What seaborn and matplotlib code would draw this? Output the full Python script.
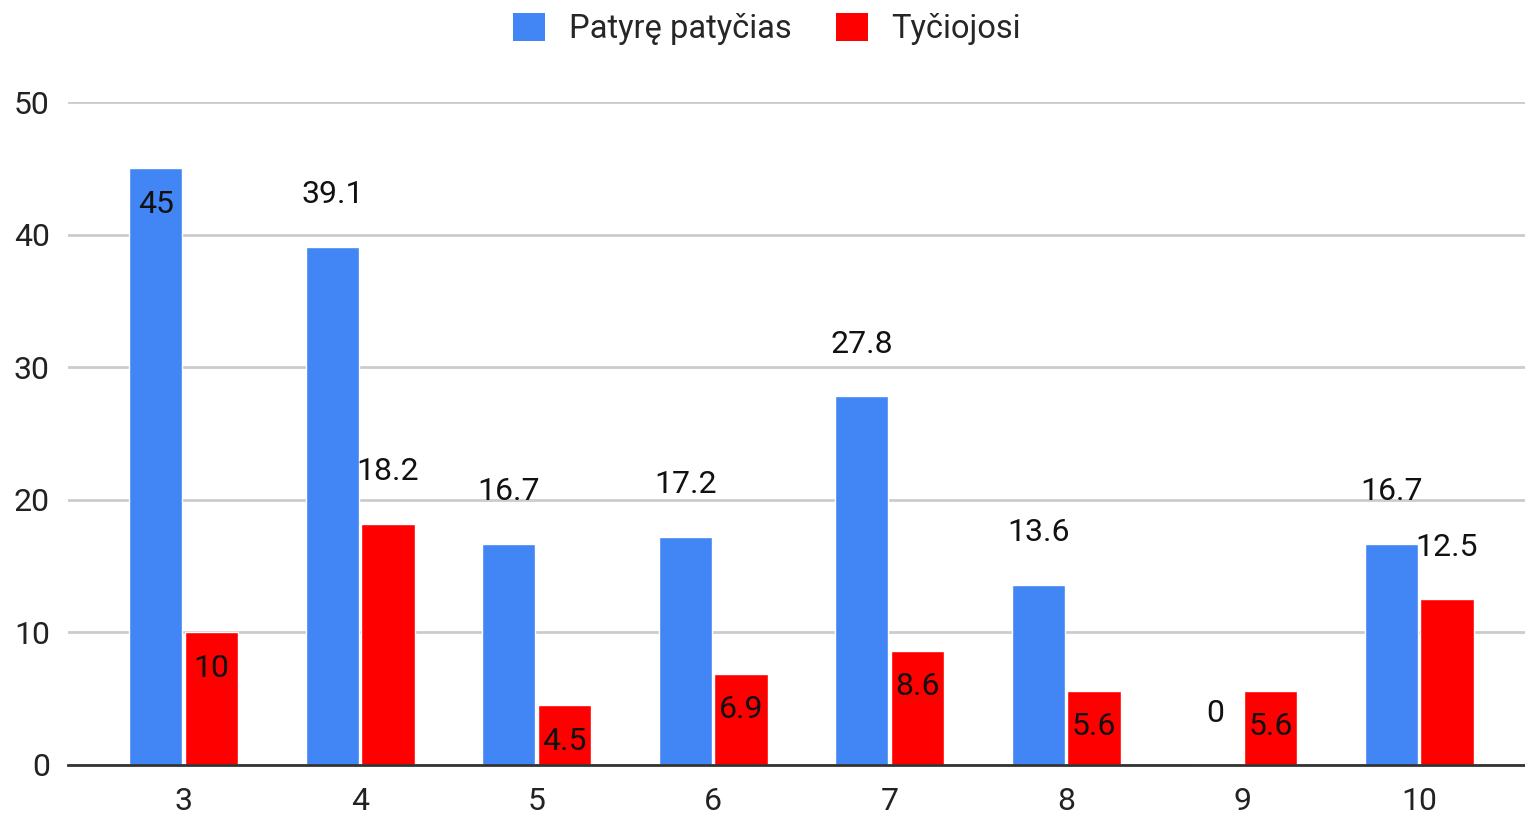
import pandas as pd
import numpy as np
import seaborn as sns
import matplotlib.pyplot as plt
from matplotlib.patches import Patch

# data
grades = ["3", "4", "5", "6", "7", "8", "9", "10"]
bullied = [45, 39.1, 16.7, 17.2, 27.8, 13.6, 0, 16.7]
bullying = [10, 18.2, 4.5, 6.9, 8.6, 5.6, 5.6, 12.5]
series_names = ["Patyrę patyčias", "Tyčiojosi"]
# where Google put each label: inside the bar top or above it
bullied_pos = ["in", "out", "out", "out", "out", "out", "out", "out"]
bullying_pos = ["in", "out", "in", "in", "in", "in", "in", "out"]

colors = ["#4285f4", "#ff0000"]

df = pd.DataFrame({
    "grade": grades * 2,
    "value": bullied + bullying,
    "series": [series_names[0]] * len(grades) + [series_names[1]] * len(grades),
})

sns.set_style("white")
plt.rcParams["font.family"] = ["Roboto", "DejaVu Sans"]

fig = plt.figure(figsize=(15.25, 8.16), dpi=100)
ax = fig.add_axes([68 / 1525, 51 / 816, 1 - 68 / 1525, (765 - 102) / 816])

sns.barplot(data=df, x="grade", y="value", hue="series", palette=colors,
            width=0.63, gap=0.04, ax=ax, legend=False, saturation=1)

ax.set_ylim(0, 50)
ax.set_xlim(-0.655, 7.6)
ax.set_yticks([0, 10, 20, 30, 40, 50])
ax.grid(axis="y", color="#cccccc", linewidth=2)
ax.set_axisbelow(True)
for s in ["top", "right", "left"]:
    ax.spines[s].set_visible(False)
ax.spines["bottom"].set_color("#333333")
ax.spines["bottom"].set_linewidth(2)
ax.tick_params(axis="both", length=0, labelsize=23, labelcolor="#222222")
ax.tick_params(axis="x", pad=16)
ax.tick_params(axis="y", pad=13)
ax.set_xlabel("")
ax.set_ylabel("")

# value labels
for container, vals, pos in zip(ax.containers, [bullied, bullying], [bullied_pos, bullying_pos]):
    for bar, v, p in zip(container, vals, pos):
        x = bar.get_x() + bar.get_width() / 2
        dy = 52 if p == "out" else -36
        ax.annotate(f"{v:g}", (x, v), xytext=(0, dy), textcoords="offset pixels",
                    ha="center", va="center", fontsize=23, color="#111111")

handles = [Patch(facecolor=c, edgecolor="none") for c in colors]
fig.legend(handles, series_names, loc="center", bbox_to_anchor=(767 / 1525, 1 - 29 / 816),
           ncol=2, frameon=False, fontsize=23.5, handlelength=0.98, handleheight=0.98,
           handletextpad=0.73, columnspacing=1.35)

fig.savefig("out.png", dpi=100)
